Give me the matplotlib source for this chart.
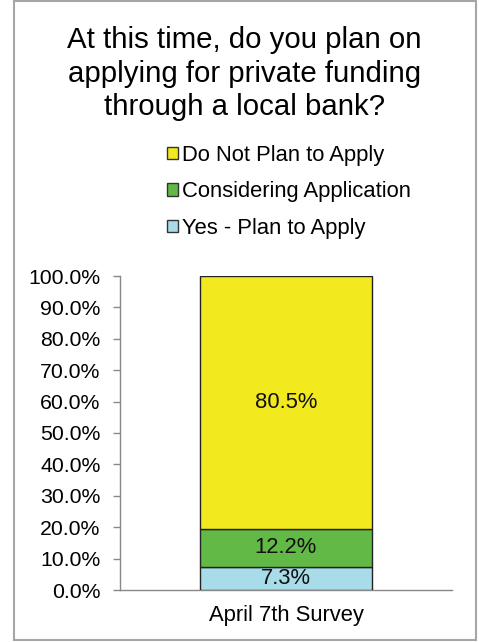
import numpy as np
import matplotlib.pyplot as plt
from matplotlib.patches import Patch, Rectangle

plt.rcParams['font.family'] = ['Liberation Sans', 'DejaVu Sans']

# data
categories = ["April 7th Survey"]
series = ["Yes - Plan to Apply", "Considering Application", "Do Not Plan to Apply"]
values = [7.3, 12.2, 80.5]
colors = ["#A8DCE9", "#62B946", "#F2EA1E"]
title_lines = ["At this time, do you plan on",
               "applying for private funding",
               "through a local bank?"]

W, H = 479, 642
fig = plt.figure(figsize=(W / 100, H / 100), dpi=100)

# outer gray frame
fig.add_artist(Rectangle((14 / W, 1 - 640 / H), (476 - 14) / W, (640 - 1) / H,
                         transform=fig.transFigure, fill=False,
                         edgecolor="#a6a6a6", linewidth=1.5))

# title
for i, line in enumerate(title_lines):
    fig.text(244.5 / W, 1 - (48 + 33.5 * i) / H, line, ha="center",
             va="baseline", fontsize=21.2, color="black")

ax = fig.add_axes([120 / W, 1 - 590 / H, (452 - 120) / W, (590 - 276) / H])

bottom = 0
handles = []
for name, v, c in zip(series, values, colors):
    ax.bar(0, v, width=0.52, bottom=bottom, color=c, edgecolor="#222222",
           linewidth=1.0, zorder=3)
    ax.text(0, bottom + v / 2, f"{v:.1f}%", ha="center", va="center",
            fontsize=15.8, color="#111111", zorder=4)
    handles.append(Patch(facecolor=c, edgecolor="#333333", linewidth=1.0, label=name))
    bottom += v

ax.set_xlim(-0.5, 0.5)
ax.set_ylim(0, 100)
ax.set_yticks(np.arange(0, 101, 10))
ax.set_yticklabels([f"{t:.1f}%" for t in np.arange(0, 101, 10)])
ax.set_xticks([0])
ax.set_xticklabels(categories)
ax.tick_params(axis="y", length=5, width=1, color="#888888", labelsize=15.3, pad=9)
ax.tick_params(axis="x", length=0, labelsize=15.8, pad=11)
for s in ["top", "right"]:
    ax.spines[s].set_visible(False)
for s in ["left", "bottom"]:
    ax.spines[s].set_color("#888888")
    ax.spines[s].set_linewidth(1.0)

fig.legend(handles=handles[::-1], loc="upper left",
           bbox_to_anchor=(167 / W, 1 - 145 / H), frameon=False,
           fontsize=15.8, handlelength=0.5, handleheight=0.5,
           handletextpad=0.2, labelspacing=0.7, borderpad=0, borderaxespad=0)

fig.savefig("out.png", dpi=100)
